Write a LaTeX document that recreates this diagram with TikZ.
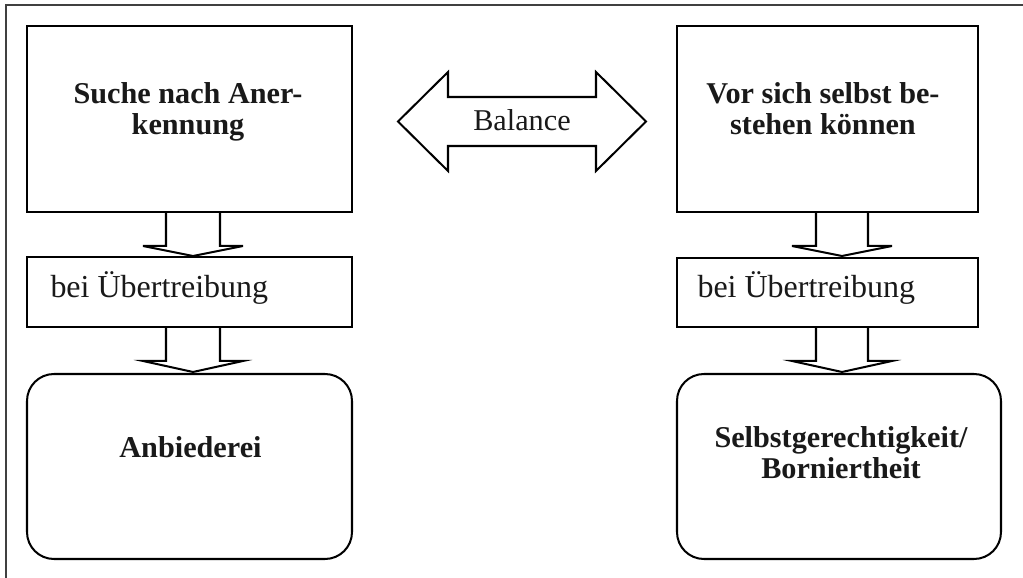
\documentclass[tikz,border=0pt]{standalone}
\usepackage{fontspec}
\setmainfont{Liberation Serif}
\usetikzlibrary{calc}
\newcommand\blkdown[4]{%
  \draw[blk] ($(#1)+(-#4,0)$) -- ($(#2)+(-#4,-#3)$) -- ($(#2)+(-50,-#3)$) -- (#2)
    -- ($(#2)+(50,-#3)$) -- ($(#2)+(#4,-#3)$) -- ($(#1)+(#4,0)$);}
\begin{document}
\begin{tikzpicture}[x=0.397pt,y=-0.397pt,
  sbox/.style n args={2}{draw, line width=0.8pt, inner sep=0pt,
    minimum width=#1*0.397pt, minimum height=#2*0.397pt},
  rbox/.style={rounded corners=10.7pt},
  blk/.style={draw, line width=0.8pt, line join=miter, fill=white},
  frame/.style={draw=black!75, line width=0.7pt},
  btext/.style={font=\fontsize{12}{12.3}\selectfont\bfseries, inner sep=0pt, text=black!90},
  ntext/.style={font=\fontsize{12.7}{15}\selectfont, inner sep=0pt, text=black!90},
  baltext/.style={font=\fontsize{12}{14}\selectfont, inner sep=0pt, text=black!90}]
\useasboundingbox (0,0) rectangle (1023,578);
\draw[frame] (6,578) -- (6,5) -- (1023,5);

% boxes
\node[sbox={325}{186}] (b1) at (189.5,119) {};
\node[sbox={325}{70}] (b2) at (189.5,292) {};
\node[sbox={325}{185}, rbox] (b3) at (189.5,466.5) {};
\node[sbox={301}{186}] (b4) at (827.5,119) {};
\node[sbox={301}{69}] (b5) at (827.5,292.5) {};
\node[sbox={324}{185}, rbox] (b6) at (839,466.5) {};

% texts
\node[btext, anchor=base] (t1) at (188,104)
  {\begin{tabular}[t]{@{}c@{}}Suche nach Aner-\\kennung\end{tabular}};
\node[ntext, anchor=base west] (t2) at (50,298) {bei Übertreibung};
\node[btext, anchor=base] (t3) at (190.5,458) {Anbiederei};
\node[btext, anchor=base] (t4) at (823,104)
  {\begin{tabular}[t]{@{}c@{}}Vor sich selbst be-\\stehen können\end{tabular}};
\node[ntext, anchor=base west] (t5) at (697,298) {bei Übertreibung};
\node[btext, anchor=base] (t6) at (841,448)
  {\begin{tabular}[t]{@{}c@{}}Selbstgerechtigkeit/\\Borniertheit\end{tabular}};

% block arrows down
\coordinate (a1s) at ($(b1.south)+(3.5,0)$);
\coordinate (a1e) at ($(b2.north)+(3.5,0)$);
\coordinate (a2s) at ($(b2.south)+(3.5,0)$);
\coordinate (a2e) at ($(b3.north)+(3.5,-1)$);
\coordinate (a3s) at ($(b4.south)+(14.5,0)$);
\coordinate (a3e) at ($(b5.north)+(14.5,-1)$);
\coordinate (a4s) at ($(b5.south)+(14.5,0)$);
\coordinate (a4e) at ($(b6.north)+(3,-1)$);
\blkdown{a1s}{a1e}{10}{27}
\blkdown{a2s}{a2e}{11}{27}
\blkdown{a3s}{a3e}{10}{26}
\blkdown{a4s}{a4e}{11}{26}

% balance double arrow
\coordinate (bc) at (522,121.5);
\draw[blk] ($(bc)+(-124,0)$) -- ($(bc)+(-74,-49.5)$) -- ($(bc)+(-74,-24.5)$)
  -- ($(bc)+(74,-24.5)$) -- ($(bc)+(74,-49.5)$) -- ($(bc)+(124,0)$)
  -- ($(bc)+(74,49.5)$) -- ($(bc)+(74,24.5)$) -- ($(bc)+(-74,24.5)$)
  -- ($(bc)+(-74,49.5)$) -- cycle;
\node[baltext, anchor=base] (bal) at (522,131) {Balance};
\end{tikzpicture}
\end{document}
